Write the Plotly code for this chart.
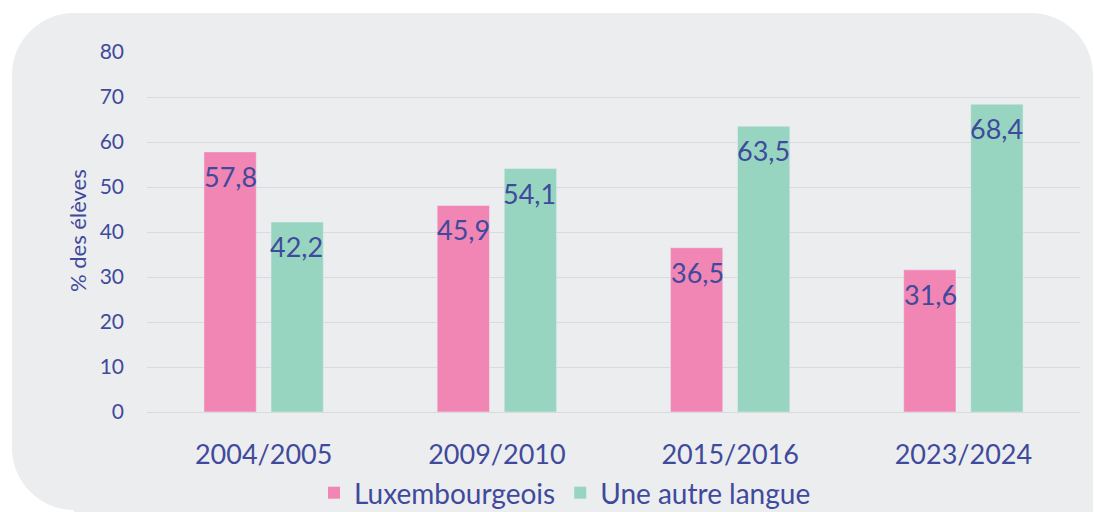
import plotly.graph_objects as go

categories = ["2004/2005", "2009/2010", "2015/2016", "2023/2024"]
luxembourgeois = [57.8, 45.9, 36.5, 31.6]
autre_langue = [42.2, 54.1, 63.5, 68.4]
series_names = ["Luxembourgeois", "Une autre langue"]
y_ticks = [0, 10, 20, 30, 40, 50, 60, 70, 80]

W, H = 1094, 512
L, R, T, B = 147, 14, 52, 100
PW, PH = W - L - R, H - T - B

def px(x):
    return (x - L) / PW

def py(y):
    return (H - B - y) / PH

TXT = "#3F4A9C"
FONT = "Lato"
PINK = "#F186B5"
GREEN = "#98D5C0"

def fmt(v):
    return f"{v:.1f}".replace(".", ",")

fig = go.Figure()
fig.add_trace(go.Bar(x=categories, y=luxembourgeois, name=series_names[0],
                     marker_color=PINK, showlegend=False, legendgroup="lux"))
fig.add_trace(go.Bar(x=categories, y=autre_langue, name=series_names[1],
                     marker_color=GREEN, showlegend=False, legendgroup="autre"))
# legend entries with larger square swatches
for name, col, grp in ((series_names[0], PINK, "lux"), (series_names[1], GREEN, "autre")):
    fig.add_trace(go.Scatter(x=[None], y=[None], mode="markers", name=name, legendgroup=grp,
                             marker=dict(symbol="square", size=16, color=col)))

# value labels just inside the top of each bar
for vals, shift in ((luxembourgeois, -33), (autre_langue, 33)):
    for c, v in zip(categories, vals):
        fig.add_annotation(x=c, y=v, xref="x", yref="y", text=fmt(v), showarrow=False,
                           xshift=shift, yanchor="top", yshift=-6,
                           font=dict(size=27, color=TXT, family=FONT))

# rounded background panel (pixel -> paper coordinates)
x0, x1, y0, y1 = 12, 1093, 13, 510
r = 62
k = 0.45
pts = [
    f"M {px(x0)},{py(y0 + r)}",
    f"C {px(x0)},{py(y0 + r*k)} {px(x0 + r*k)},{py(y0)} {px(x0 + r)},{py(y0)}",
    f"L {px(x1 - r)},{py(y0)}",
    f"C {px(x1 - r*k)},{py(y0)} {px(x1)},{py(y0 + r*k)} {px(x1)},{py(y0 + r)}",
    f"L {px(x1)},{py(y1 + 5)}",
    f"L {px(x0 + r)},{py(y1 + 5)}",
    f"L {px(x0 + r)},{py(y1)}",
    f"C {px(x0 + r*k)},{py(y1)} {px(x0)},{py(y1 - r*k)} {px(x0)},{py(y1 - r)}",
    "Z",
]
fig.add_shape(type="path", path=" ".join(pts), xref="paper", yref="paper",
              fillcolor="#ECEDEF", line=dict(width=0), layer="below")

fig.add_annotation(text="% des élèves", x=px(77), y=py(231), xref="paper", yref="paper",
                   textangle=-90, showarrow=False, xanchor="center", yanchor="middle",
                   font=dict(size=22, color=TXT, family=FONT))

fig.update_layout(
    width=W, height=H,
    margin=dict(l=L, r=R, t=T, b=B, autoexpand=False),
    paper_bgcolor="white",
    plot_bgcolor="rgba(0,0,0,0)",
    barmode="group",
    bargap=0.425,
    bargroupgap=0.22,
    font=dict(family=FONT, color=TXT),
    showlegend=True,
    legend=dict(orientation="h", xref="container", yref="container",
                x=565 / W, xanchor="center", y=1 - 493 / H, yanchor="middle",
                font=dict(size=28, color=TXT, family=FONT), bgcolor="rgba(0,0,0,0)",
                itemsizing="constant"),
    xaxis=dict(showgrid=False, showline=False, ticks="", automargin=False,
               tickfont=dict(size=27, color=TXT, family=FONT), ticklabelstandoff=24),
    yaxis=dict(range=[0, 80], tickvals=y_ticks, showgrid=True, gridcolor="#D9DADE",
               gridwidth=1, zeroline=True, zerolinecolor="#D9DADE", zerolinewidth=1,
               showline=False, ticks="", automargin=False,
               tickfont=dict(size=21, color=TXT, family=FONT), ticklabelstandoff=22),
)

fig.write_html("out.html", config={"displayModeBar": False},
               post_script="document.body.style.margin='0';document.body.style.overflow='hidden';")
